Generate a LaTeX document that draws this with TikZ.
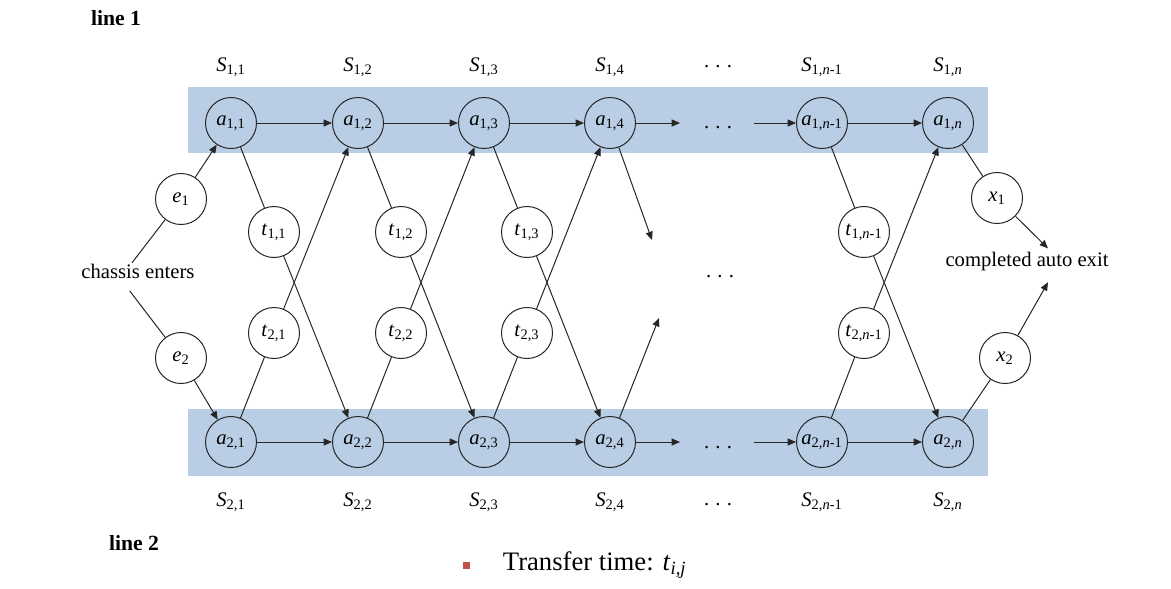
\documentclass[tikz,border=0pt]{standalone}
\usepackage{fontspec}
\setmainfont{Liberation Serif}
\usetikzlibrary{arrows.meta,positioning}
\definecolor{bandblue}{HTML}{B9CDE5}
\definecolor{ink}{HTML}{262626}
\definecolor{markred}{HTML}{C0504D}
\newcommand{\sublabel}[2]{\textit{#1}\textsubscript{#2}}
\newcommand{\gapdots}{.\hspace{0.3em}.\hspace{0.3em}.}

\begin{document}
\begin{tikzpicture}[
    x=0.6pt, y=-0.6pt,
    font=\fontsize{12.4}{14}\selectfont,
    station/.style={circle, draw=ink, line width=0.6pt, minimum size=30.6pt, inner sep=0pt},
    hop/.style={station, fill=white},
    arrow/.style={-{Triangle[length=5pt,width=4.2pt]}, line width=0.6pt, draw=ink},
    link/.style={line width=0.6pt, draw=ink}
  ]
    \useasboundingbox (0,0) rectangle (1171,588);
    % the two assembly lines
    \fill[bandblue] (188,87) rectangle (988,153);
    \fill[bandblue] (188,409) rectangle (988,476);
    \node[font=\fontsize{13}{15}\selectfont\bfseries] (line1) at (116,18) {line 1};
    \node[font=\fontsize{13}{15}\selectfont\bfseries] (line2) at (134,543) {line 2};

    % stations, line 1
    \node[station] (a11) at (231,123) {\sublabel{a}{1,1}};
    \node[station] (a12) at (358,123) {\sublabel{a}{1,2}};
    \node[station] (a13) at (484,123) {\sublabel{a}{1,3}};
    \node[station] (a14) at (610,123) {\sublabel{a}{1,4}};
    \node[station] (a1m) at (822,123) {\sublabel{a}{1,\textit{n}-1}};
    \node[station] (a1n) at (948,123) {\sublabel{a}{1,\textit{n}}};
    % stations, line 2
    \node[station] (a21) at (231,442) {\sublabel{a}{2,1}};
    \node[station] (a22) at (358,442) {\sublabel{a}{2,2}};
    \node[station] (a23) at (484,442) {\sublabel{a}{2,3}};
    \node[station] (a24) at (610,442) {\sublabel{a}{2,4}};
    \node[station] (a2m) at (822,442) {\sublabel{a}{2,\textit{n}-1}};
    \node[station] (a2n) at (948,442) {\sublabel{a}{2,\textit{n}}};

    \node[above=0.3cm of a11] (s11) {\sublabel{S}{1,1}};
    \node[above=0.3cm of a12] (s12) {\sublabel{S}{1,2}};
    \node[above=0.3cm of a13] (s13) {\sublabel{S}{1,3}};
    \node[above=0.3cm of a14] (s14) {\sublabel{S}{1,4}};
    \node[above=0.3cm of a1m] (s1m) {\sublabel{S}{1,\textit{n}-1}};
    \node[above=0.3cm of a1n] (s1n) {\sublabel{S}{1,\textit{n}}};
    \node[below=0.4cm of a21] (s21) {\sublabel{S}{2,1}};
    \node[below=0.4cm of a22] (s22) {\sublabel{S}{2,2}};
    \node[below=0.4cm of a23] (s23) {\sublabel{S}{2,3}};
    \node[below=0.4cm of a24] (s24) {\sublabel{S}{2,4}};
    \node[below=0.4cm of a2m] (s2m) {\sublabel{S}{2,\textit{n}-1}};
    \node[below=0.4cm of a2n] (s2n) {\sublabel{S}{2,\textit{n}}};

    \node (dotsS1) at (718,67) {\gapdots};
    \node (dotsA1) at (718,128) {\gapdots};
    \node (dotsmid) at (720,277) {\gapdots};
    \node (dotsA2) at (718,448) {\gapdots};
    \node (dotsS2) at (718,505) {\gapdots};

    % transfers
    \node[hop] (t11) at (274,232) {\sublabel{t}{1,1}};
    \node[hop] (t12) at (401,232) {\sublabel{t}{1,2}};
    \node[hop] (t13) at (527,232) {\sublabel{t}{1,3}};
    \node[hop] (t1m) at (864,232) {\sublabel{t}{1,\textit{n}-1}};
    \node[hop] (t21) at (274,333) {\sublabel{t}{2,1}};
    \node[hop] (t22) at (401,333) {\sublabel{t}{2,2}};
    \node[hop] (t23) at (527,333) {\sublabel{t}{2,3}};
    \node[hop] (t2m) at (864,333) {\sublabel{t}{2,\textit{n}-1}};

    % entry and exit
    \node[hop] (e1) at (181,199) {\sublabel{e}{1}};
    \node[hop] (e2) at (181,358) {\sublabel{e}{2}};
    \node[hop] (x1) at (997,198) {\sublabel{x}{1}};
    \node[hop] (x2) at (1005,358) {\sublabel{x}{2}};
    \node (chassis) at (138,271) {chassis enters};
    \node (exit) at (1027,262) {completed auto exit};

    \coordinate (g1) at (680,123);
    \coordinate (g2) at (754,123);
    \coordinate (g3) at (680,442);
    \coordinate (g4) at (754,442);
    \coordinate (d1) at (652,240);
    \coordinate (d2) at (659,318);

    \draw[arrow] (a11) -- (a12);
    \draw[arrow] (a12) -- (a13);
    \draw[arrow] (a13) -- (a14);
    \draw[arrow] (a14) -- (g1);
    \draw[arrow] (g2) -- (a1m);
    \draw[arrow] (a1m) -- (a1n);
    \draw[arrow] (a21) -- (a22);
    \draw[arrow] (a22) -- (a23);
    \draw[arrow] (a23) -- (a24);
    \draw[arrow] (a24) -- (g3);
    \draw[arrow] (g4) -- (a2m);
    \draw[arrow] (a2m) -- (a2n);

    \draw[link] (a11) -- (t11);
    \draw[arrow] (t11) -- (a22);
    \draw[link] (a21) -- (t21);
    \draw[arrow] (t21) -- (a12);
    \draw[link] (a12) -- (t12);
    \draw[arrow] (t12) -- (a23);
    \draw[link] (a22) -- (t22);
    \draw[arrow] (t22) -- (a13);
    \draw[link] (a13) -- (t13);
    \draw[arrow] (t13) -- (a24);
    \draw[link] (a23) -- (t23);
    \draw[arrow] (t23) -- (a14);
    \draw[arrow] (a14) -- (d1);
    \draw[arrow] (a24) -- (d2);
    \draw[link] (a1m) -- (t1m);
    \draw[arrow] (t1m) -- (a2n);
    \draw[link] (a2m) -- (t2m);
    \draw[arrow] (t2m) -- (a1n);

    \draw[link] ([xshift=-3.6pt,yshift=-3pt]chassis.north) -- (e1);
    \draw[link] ([xshift=-5pt,yshift=-4pt]chassis.south) -- (e2);
    \draw[arrow] (e1) -- (a11);
    \draw[arrow] (e2) -- (a21);
    \draw[link] (a1n) -- (x1);
    \draw[link] (a2n) -- (x2);
    \draw[arrow] (x1) -- ([xshift=12.6pt,yshift=-1pt]exit.north);
    \draw[arrow] (x2) -- ([xshift=12.6pt,yshift=-3pt]exit.south);

    % legend
    \node[fill=markred, minimum size=4.2pt, inner sep=0pt] (bullet) at (466,565) {};
    \node[anchor=west, font=\fontsize{16}{18}\selectfont] (legend) at (497,565) {Transfer time: \sublabel{t}{\textit{i,j}}};
  \end{tikzpicture}
\end{document}
